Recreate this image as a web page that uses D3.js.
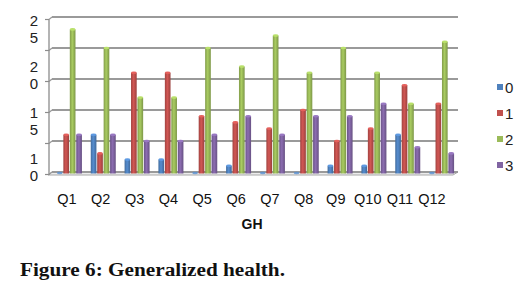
<!DOCTYPE html>
<html>
<head>
<meta charset="utf-8">
<script src="https://cdn.jsdelivr.net/npm/d3@7"></script>
<style>
body{margin:0;background:#fff;}
svg{display:block;}
</style>
</head>
<body>
<svg id="chart" width="526" height="299"></svg>
<script>
const categories = ["Q1","Q2","Q3","Q4","Q5","Q6","Q7","Q8","Q9","Q10","Q11","Q12"];
const seriesNames = ["0","1","2","3"];
const s0 = [0,6,2,2,0,1,0,0,1,1,6,0];
const s1 = [6,3,16,16,9,8,7,10,5,7,14,11];
const s2 = [23,20,12,12,20,17,22,16,20,16,11,21];
const s3 = [6,6,5,5,6,9,6,9,9,11,4,3];
const seriesValues = [s0,s1,s2,s3];
const gridTicks = [0,5,10,15,20,25];
const yTickLabels = ["25","20","15","10"];
const colors = ["#4F81BD","#C0504D","#9BBB59","#8064A2"];
const xTitle = "GH";
const caption = "Figure 6: Generalized health.";

const svg = d3.select("#chart");
const defs = svg.append("defs");
colors.forEach((c,i)=>{
  const g = defs.append("linearGradient").attr("id","g"+i).attr("x1","0").attr("x2","1").attr("y1","0").attr("y2","0");
  const base = d3.color(c);
  g.append("stop").attr("offset","0%").attr("stop-color", base.darker(0.5));
  g.append("stop").attr("offset","45%").attr("stop-color", base.brighter(0.25));
  g.append("stop").attr("offset","100%").attr("stop-color", base.darker(0.6));
});

const wallL = 52, wallR = 458, yTop = 17, yBase = 172;
const y = d3.scaleLinear().domain([0,25]).range([yBase, yTop]);
const x0 = d3.scaleBand().domain(categories).range([wallL, wallR]);
const x1 = d3.scaleBand().domain(seriesNames).range([-12, 13]).paddingInner(0.12);

// floor
svg.append("path")
  .attr("d", `M${wallL},${yBase} L${wallR},${yBase} L${wallR-5},${yBase+3} L${wallL-4},${yBase+3} Z`)
  .attr("fill","#ececec").attr("stroke","#a8a8a8").attr("stroke-width",1);

// gridlines (back wall)
const grid = svg.append("g");
gridTicks.forEach(t=>{
  const yy = y(t);
  grid.append("line").attr("x1",wallL).attr("x2",wallR).attr("y1",yy).attr("y2",yy)
    .attr("stroke","#9a9a9a").attr("stroke-width",1.8);
  grid.append("line").attr("x1",49).attr("x2",wallL).attr("y1",yy+2.5).attr("y2",yy)
    .attr("stroke","#9a9a9a").attr("stroke-width",1.2);
  grid.append("line").attr("x1",45).attr("x2",49).attr("y1",yy+2.5).attr("y2",yy+2.5)
    .attr("stroke","#8c8c8c").attr("stroke-width",1.2);
});
// left axis line
svg.append("line").attr("x1",49).attr("x2",49).attr("y1",y(25)+2.5).attr("y2",yBase+3)
  .attr("stroke","#8c8c8c").attr("stroke-width",1.3);

// y tick labels (two-line, as in reference)
const labY = d3.scaleLinear().domain([0, yTickLabels.length-1]).range([26, 164]);
const ylab = svg.append("g").attr("font-family","Liberation Sans, Arial, sans-serif").attr("font-size",15).attr("fill","#222").attr("text-anchor","end");
yTickLabels.forEach((lab,i)=>{
  const t = ylab.append("text").attr("x",38).attr("y",labY(i));
  t.append("tspan").attr("x",38).attr("dy",0).text(lab[0]);
  t.append("tspan").attr("x",38).attr("dy",16.5).text(lab[1]);
});

// bars
const bars = svg.append("g");
categories.forEach((cat,ci)=>{
  seriesNames.forEach((sn,si)=>{
    const v = seriesValues[si][ci];
    const bx = x0(cat) + x0.bandwidth()/2 + x1(sn);
    const bw = x1.bandwidth();
    const top = y(v);
    if (v > 0) {
      bars.append("rect").attr("x",bx).attr("y",top).attr("width",bw).attr("height",yBase+1.5-top)
        .attr("fill","url(#g"+si+")");
      bars.append("ellipse").attr("cx",bx+bw/2).attr("cy",top).attr("rx",bw/2).attr("ry",1.3)
        .attr("fill",d3.color(colors[si]).brighter(0.5));
    } else {
      bars.append("ellipse").attr("cx",bx+bw/2).attr("cy",yBase+1).attr("rx",bw/2).attr("ry",1.2)
        .attr("fill",d3.color(colors[si]).brighter(0.3)).attr("opacity",0.8);
    }
  });
});

// x labels
const xl = svg.append("g").attr("font-family","Liberation Sans, Arial, sans-serif").attr("font-size",14.5).attr("fill","#111").attr("text-anchor","middle");
categories.forEach((cat,ci)=>{
  xl.append("text").attr("x",x0(cat)+x0.bandwidth()/2-2 - (ci>7 ? (ci-7)*1.8 : 0)).attr("y",204).text(cat);
});
svg.append("text").attr("x",252).attr("y",229).attr("text-anchor","middle")
  .attr("font-family","Liberation Sans, Arial, sans-serif").attr("font-size",14).attr("font-weight","bold").attr("fill","#111").text(xTitle);

// legend
const lg = svg.append("g").attr("font-family","Liberation Sans, Arial, sans-serif").attr("font-size",15).attr("fill","#222");
seriesNames.forEach((sn,i)=>{
  const ly = 87 + i*26;
  lg.append("rect").attr("x",497).attr("y",ly-3).attr("width",6).attr("height",6).attr("fill",colors[i]);
  lg.append("text").attr("x",505).attr("y",ly+5.5).text(sn);
});

// caption
svg.append("text").attr("x",20).attr("y",276)
  .attr("font-family","Liberation Serif, serif").attr("font-size",18).attr("font-weight","bold").attr("fill","#111")
  .attr("textLength",265).attr("lengthAdjust","spacingAndGlyphs").text(caption);
</script>
</body>
</html>
